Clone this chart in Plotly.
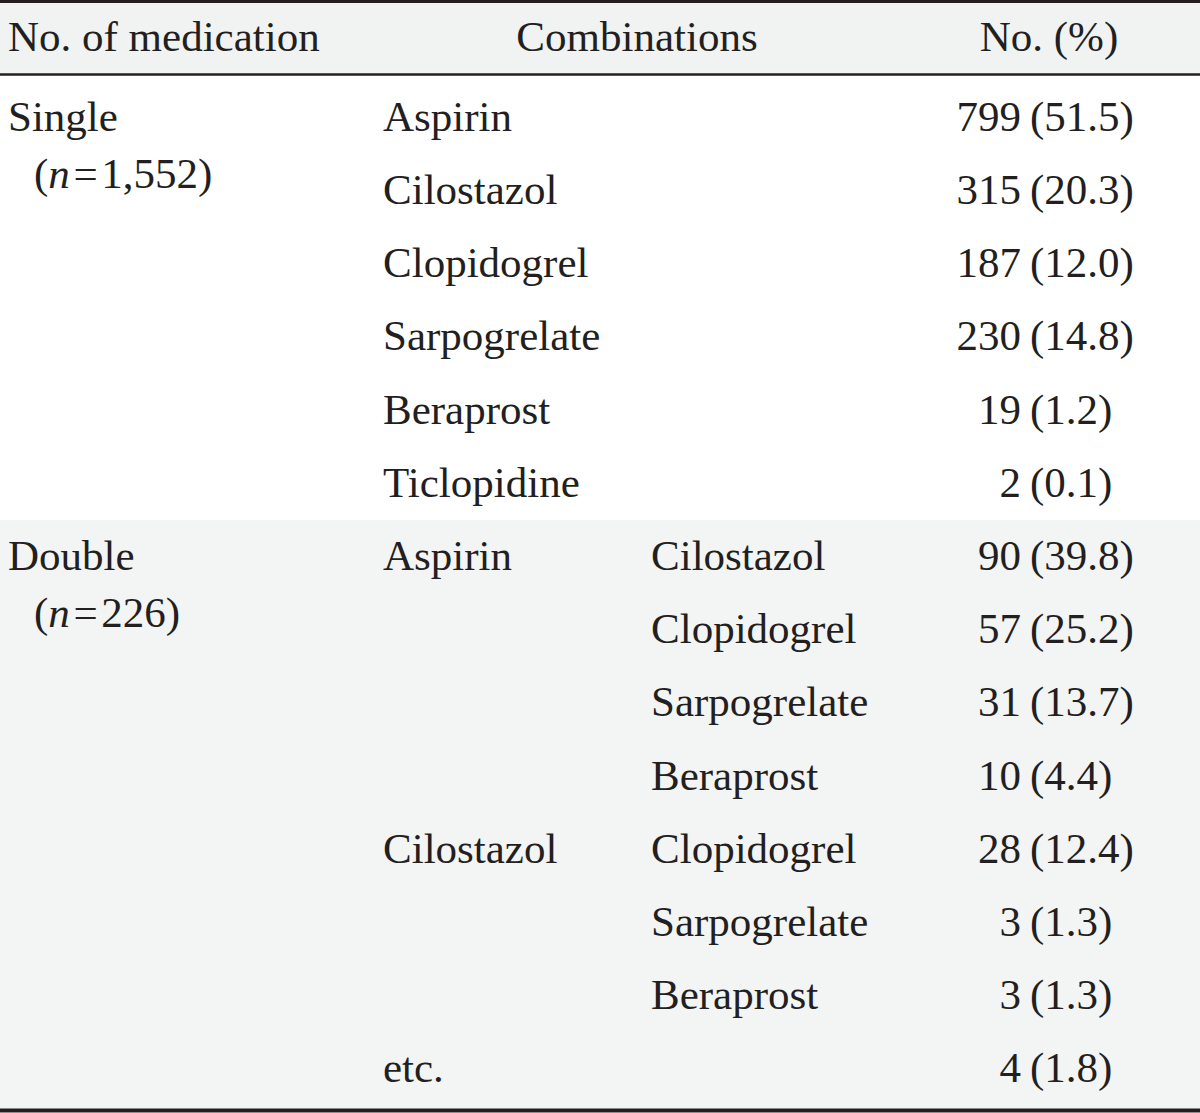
import plotly.graph_objects as go

# ---- data ----
headers = ["No. of medication", "Combinations", "No. (%)"]
groups = ["Single", "Double"]
group_n = ["1,552", "226"]
group_rows = [0, 6]  # first row index of each group

drug1 = ["Aspirin", "Cilostazol", "Clopidogrel", "Sarpogrelate", "Beraprost", "Ticlopidine",
         "Aspirin", "", "", "", "Cilostazol", "", "", "etc."]
drug2 = ["", "", "", "", "", "",
         "Cilostazol", "Clopidogrel", "Sarpogrelate", "Beraprost", "Clopidogrel", "Sarpogrelate", "Beraprost", ""]
counts = [799, 315, 187, 230, 19, 2, 90, 57, 31, 10, 28, 3, 3, 4]
pcts = [51.5, 20.3, 12.0, 14.8, 1.2, 0.1, 39.8, 25.2, 13.7, 4.4, 12.4, 1.3, 1.3, 1.8]

# ---- layout constants ----
W, H = 1200, 1113
ROW0, ROW_H = 120, 73.2
HEAD_Y = 40
SUB_OFF = 57
X_GROUP, X_SUB, X_D1, X_D2 = 8, 34, 383, 651
X_CNT_R, X_PCT_L = 1021, 1030
TXT = "#231f20"
FONT = dict(family="Liberation Serif, Times New Roman, serif", size=43, color=TXT)

n_rows = len(counts)
row_y = [ROW0 + i * ROW_H for i in range(n_rows)]

fig = go.Figure()

def add_text(xs, ys, texts, pos):
    fig.add_trace(go.Scatter(x=xs, y=ys, text=texts, mode="text", textposition=pos,
                             textfont=FONT, hoverinfo="skip", showlegend=False, cliponaxis=False))

# header
add_text([X_GROUP], [HEAD_Y], [headers[0]], "middle right")
add_text([637], [HEAD_Y], [headers[1]], "middle center")
add_text([1049], [HEAD_Y], [headers[2]], "middle center")

# group labels
add_text([X_GROUP] * len(groups), [row_y[r] for r in group_rows], groups, "middle right")
add_text([X_SUB] * len(groups), [row_y[r] + SUB_OFF for r in group_rows],
         ["(<i>n</i>\u200a=\u200a" + n + ")" for n in group_n], "middle right")

# combination columns
add_text([X_D1] * n_rows, row_y, drug1, "middle right")
add_text([X_D2] * n_rows, row_y, drug2, "middle right")

# numbers
add_text([X_CNT_R] * n_rows, row_y, [str(c) for c in counts], "middle left")
add_text([X_PCT_L] * n_rows, row_y, ["(%.1f)" % p for p in pcts], "middle right")

# backgrounds and rules
shapes = [
    dict(type="rect", x0=0, x1=W, y0=3, y1=74, fillcolor="#f1f2f2", line_width=0, layer="below"),
    dict(type="rect", x0=0, x1=W, y0=520, y1=1109, fillcolor="#f3f4f4", line_width=0, layer="below"),
    dict(type="line", x0=0, x1=W, y0=1.5, y1=1.5, line=dict(color=TXT, width=3)),
    dict(type="line", x0=0, x1=W, y0=74.5, y1=74.5, line=dict(color=TXT, width=2.5)),
    dict(type="line", x0=0, x1=W, y0=1110.5, y1=1110.5, line=dict(color=TXT, width=4)),
]

fig.update_layout(
    width=W, height=H, margin=dict(l=0, r=0, t=0, b=0),
    paper_bgcolor="white", plot_bgcolor="white",
    xaxis=dict(range=[0, W], visible=False, fixedrange=True),
    yaxis=dict(range=[H, 0], visible=False, fixedrange=True),
    shapes=shapes,
)

fig.write_html("out.html", config={"displayModeBar": False},
               post_script="document.body.style.margin='0';document.body.style.overflow='hidden';")
